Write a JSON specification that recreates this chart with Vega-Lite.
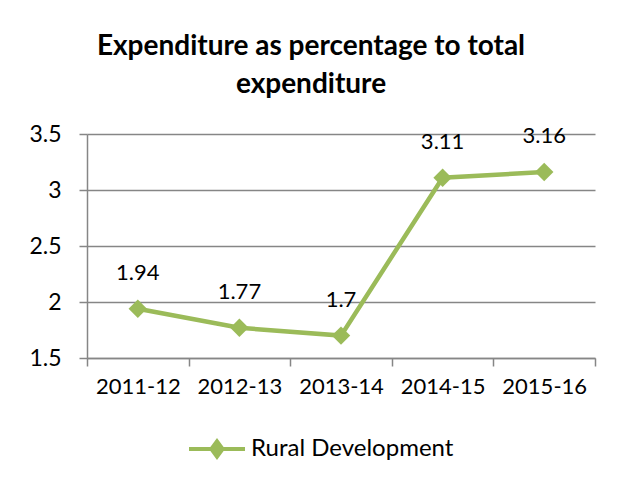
{
  "$schema": "https://vega.github.io/schema/vega-lite/v6.json",
  "width": 508,
  "height": 224,
  "autosize": {"type": "none"},
  "padding": {"left": 87, "top": 134, "right": 29, "bottom": 127},
  "background": "white",
  "title": {
    "text": ["Expenditure as percentage to total", "expenditure"],
    "font": "Lato",
    "fontSize": 28,
    "fontWeight": "bold",
    "color": "#000000",
    "lineHeight": 38,
    "anchor": "middle",
    "frame": "group",
    "dx": -30,
    "offset": 24
  },
  "data": {
    "values": [
      {"year": "2011-12", "value": 1.94, "series": "Rural Development"},
      {"year": "2012-13", "value": 1.77, "series": "Rural Development"},
      {"year": "2013-14", "value": 1.70, "series": "Rural Development"},
      {"year": "2014-15", "value": 3.11, "series": "Rural Development"},
      {"year": "2015-16", "value": 3.16, "series": "Rural Development"}
    ]
  },
  "encoding": {
    "x": {
      "field": "year",
      "type": "ordinal",
      "scale": {"type": "band", "paddingInner": 0, "paddingOuter": 0},
      "axis": {
        "title": null,
        "labelAngle": 0,
        "tickBand": "extent",
        "labelFont": "Lato",
        "labelFontSize": 22,
        "labelColor": "#000000",
        "labelPadding": 10,
        "tickSize": 8,
        "tickColor": "#868686",
        "tickWidth": 1.5,
        "domainColor": "#868686",
        "domainWidth": 1.5,
        "grid": false
      }
    },
    "y": {
      "field": "value",
      "type": "quantitative",
      "scale": {"domain": [1.5, 3.5], "nice": false, "zero": false},
      "axis": {
        "title": null,
        "values": [1.5, 2, 2.5, 3, 3.5],
        "format": "~g",
        "labelFont": "Lato",
        "labelFontSize": 23,
        "labelColor": "#000000",
        "labelPadding": 18,
        "tickSize": 8,
        "tickColor": "#868686",
        "tickWidth": 1.5,
        "gridColor": "#868686",
        "gridWidth": 1.5,
        "domainColor": "#868686",
        "domainWidth": 1.5
      }
    },
    "color": {
      "field": "series",
      "type": "nominal",
      "scale": {"range": ["#9BBB59"]},
      "legend": {
        "title": null,
        "orient": "none",
        "legendX": 100,
        "legendY": 285,
        "symbolType": "M-1,0H1M-0.2,0L0,-0.27L0.2,0L0,0.27Z",
        "symbolSize": 3136,
        "symbolStrokeWidth": 4,
        "symbolFillColor": "#9BBB59",
        "symbolStrokeColor": "#9BBB59",
        "labelFont": "Lato",
        "labelFontSize": 24,
        "labelColor": "#000000",
        "labelOffset": 4,
        "labelLimit": 400
      }
    }
  },
  "layer": [
    {"mark": {"type": "line", "strokeWidth": 4.5}},
    {"mark": {"type": "point", "shape": "diamond", "filled": true, "size": 340, "opacity": 1}},
    {
      "mark": {"type": "text", "dy": -36, "font": "Lato", "fontSize": 22, "color": "#000000"},
      "encoding": {"text": {"field": "value", "type": "quantitative"}, "color": {"value": "#000000"}}
    }
  ],
  "config": {"view": {"stroke": null}}
}
